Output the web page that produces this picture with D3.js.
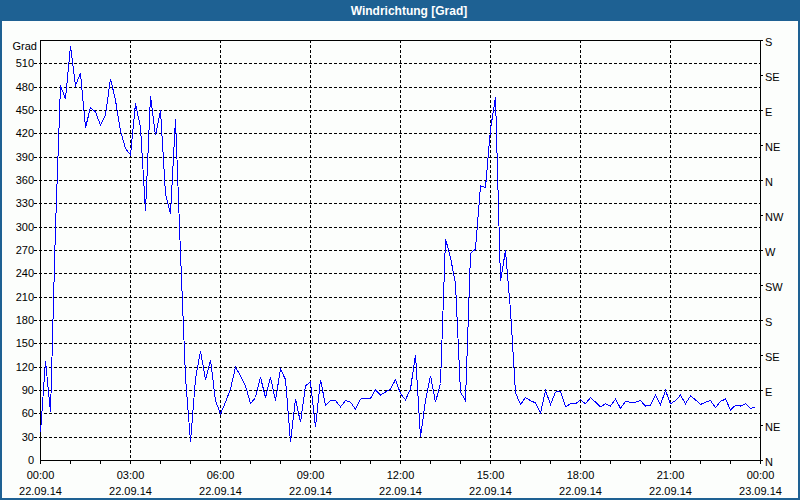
<!DOCTYPE html>
<html><head><meta charset="utf-8">
<script src="https://cdn.jsdelivr.net/npm/d3@7"></script>
<style>
body{margin:0;background:#fff}
svg text{font-family:"Liberation Sans",Arial,sans-serif;font-size:11px;fill:#000}
</style>
</head><body>
<svg id="c" width="800" height="500"></svg>
<script>
const titleText = "Windrichtung [Grad]";
const unitLabel = "Grad";
const startTime = new Date(2014, 8, 22, 0, 0);
const endTime = new Date(2014, 8, 23, 0, 0);
const stepMinutes = 10;
const directionDeg = [
  36,128,62,300,482,465,533,482,498,428,454,448,431,444,491,463,424,401,393,459,
  428,321,469,418,450,343,317,439,266,107,24,105,141,104,129,77,60,75,92,120,
  109,96,73,81,107,81,107,77,118,104,24,79,49,96,101,43,104,71,77,77,
  69,77,75,66,79,80,80,91,84,88,92,104,86,78,92,136,30,77,109,75,
  99,285,261,227,88,77,266,272,353,351,426,467,231,270,193,87,72,81,77,74,
  61,90,72,88,89,69,73,73,78,73,81,75,69,73,70,79,67,76,75,75,
  77,70,71,84,72,90,73,77,84,73,83,78,72,75,77,68,76,79,65,71,
  70,73,67,69
];
const degreeTicks = [0,30,60,90,120,150,180,210,240,270,300,330,360,390,420,450,480,510];
const compassTicks = [0,45,90,135,180,225,270,315,360,405,450,495,540];
const compassLabels = ["N","NE","E","SE","S","SW","W","NW","N","NE","E","SE","S"];
const timeTickHours = [0,3,6,9,12,15,18,21,24];

const svg = d3.select("#c");
const W = 800, H = 500;
const L = 40, R = 760, T = 40, B = 460;
const blue = "#1e6193";

const times = directionDeg.map((d,i) => new Date(startTime.getTime() + i*stepMinutes*60000));
const x = d3.scaleTime().domain([startTime, endTime]).range([L, R]);
const y = d3.scaleLinear().domain([0, 540]).range([B, T]);
const px = v => Math.round(v) + 0.5;

svg.append("rect").attr("width", W).attr("height", H).attr("fill", "#fcfefc");
svg.append("rect").attr("width", W).attr("height", 21).attr("fill", blue);
svg.append("rect").attr("x",1).attr("y",1).attr("width",W-2).attr("height",H-2)
  .attr("fill","none").attr("stroke",blue).attr("stroke-width",2);
svg.append("text").attr("x", 409).attr("y", 15).attr("text-anchor","middle")
  .style("font-weight","bold").style("font-size","12px").style("fill","#fff").text(titleText);

// horizontal grid
const g = svg.append("g").attr("shape-rendering","crispEdges");
g.selectAll("line.h").data(degreeTicks.filter(d => d > 0)).join("line")
  .attr("x1", 34).attr("x2", R).attr("y1", d => px(y(d))).attr("y2", d => px(y(d)))
  .attr("stroke","#000").attr("stroke-dasharray","3,2");
// vertical grid
const hourTime = h => new Date(startTime.getTime() + h*3600000);
g.selectAll("line.v").data(timeTickHours.filter(h => h > 0 && h < 24)).join("line")
  .attr("x1", h => px(x(hourTime(h)))).attr("x2", h => px(x(hourTime(h))))
  .attr("y1", T).attr("y2", B)
  .attr("stroke","#000").attr("stroke-dasharray","3,2");

// frame
g.append("rect").attr("x", L+0.5).attr("y", T+0.5).attr("width", R-L).attr("height", B-T)
  .attr("fill","none").attr("stroke","#000");

// bottom hourly ticks
const hours = d3.range(0, 25);
g.selectAll("line.bt").data(hours).join("line")
  .attr("x1", h => px(x(hourTime(h)))).attr("x2", h => px(x(hourTime(h))))
  .attr("y1", B).attr("y2", B+4).attr("stroke","#000");

// right ticks
g.selectAll("line.rt").data(compassTicks).join("line")
  .attr("x1", R).attr("x2", R+3).attr("y1", d => px(y(d))).attr("y2", d => px(y(d)))
  .attr("stroke","#000");

// left labels
svg.selectAll("text.l").data(degreeTicks).join("text")
  .attr("x", 34).attr("y", d => y(d) + 4).attr("text-anchor","end").text(d => d);
svg.append("text").attr("x", 37).attr("y", 50).attr("text-anchor","end").text(unitLabel);

// right labels
svg.selectAll("text.r").data(compassTicks).join("text")
  .attr("x", 765).attr("y", (d,i) => Math.max(y(d) + 5.5, 46)).text((d,i) => compassLabels[i]);

// bottom labels
const fmtT = d3.timeFormat("%H:%M"), fmtD = d3.timeFormat("%d.%m.%y");
timeTickHours.forEach(h => {
  const t = hourTime(h);
  const tx = x(t) + 0.5;
  svg.append("text").attr("x", tx).attr("y", 479).attr("text-anchor","middle").text(fmtT(t));
  svg.append("text").attr("x", tx).attr("y", 495).attr("text-anchor","middle").text(fmtD(t));
});

// data line
const line = d3.line().x((d,i) => x(times[i]) + 0.5).y(d => y(d) + 0.5);
svg.append("path").datum(directionDeg).attr("d", line)
  .attr("fill","none").attr("stroke","#0000ff").attr("stroke-width",1)
  .attr("shape-rendering","crispEdges");
</script>
</body></html>
